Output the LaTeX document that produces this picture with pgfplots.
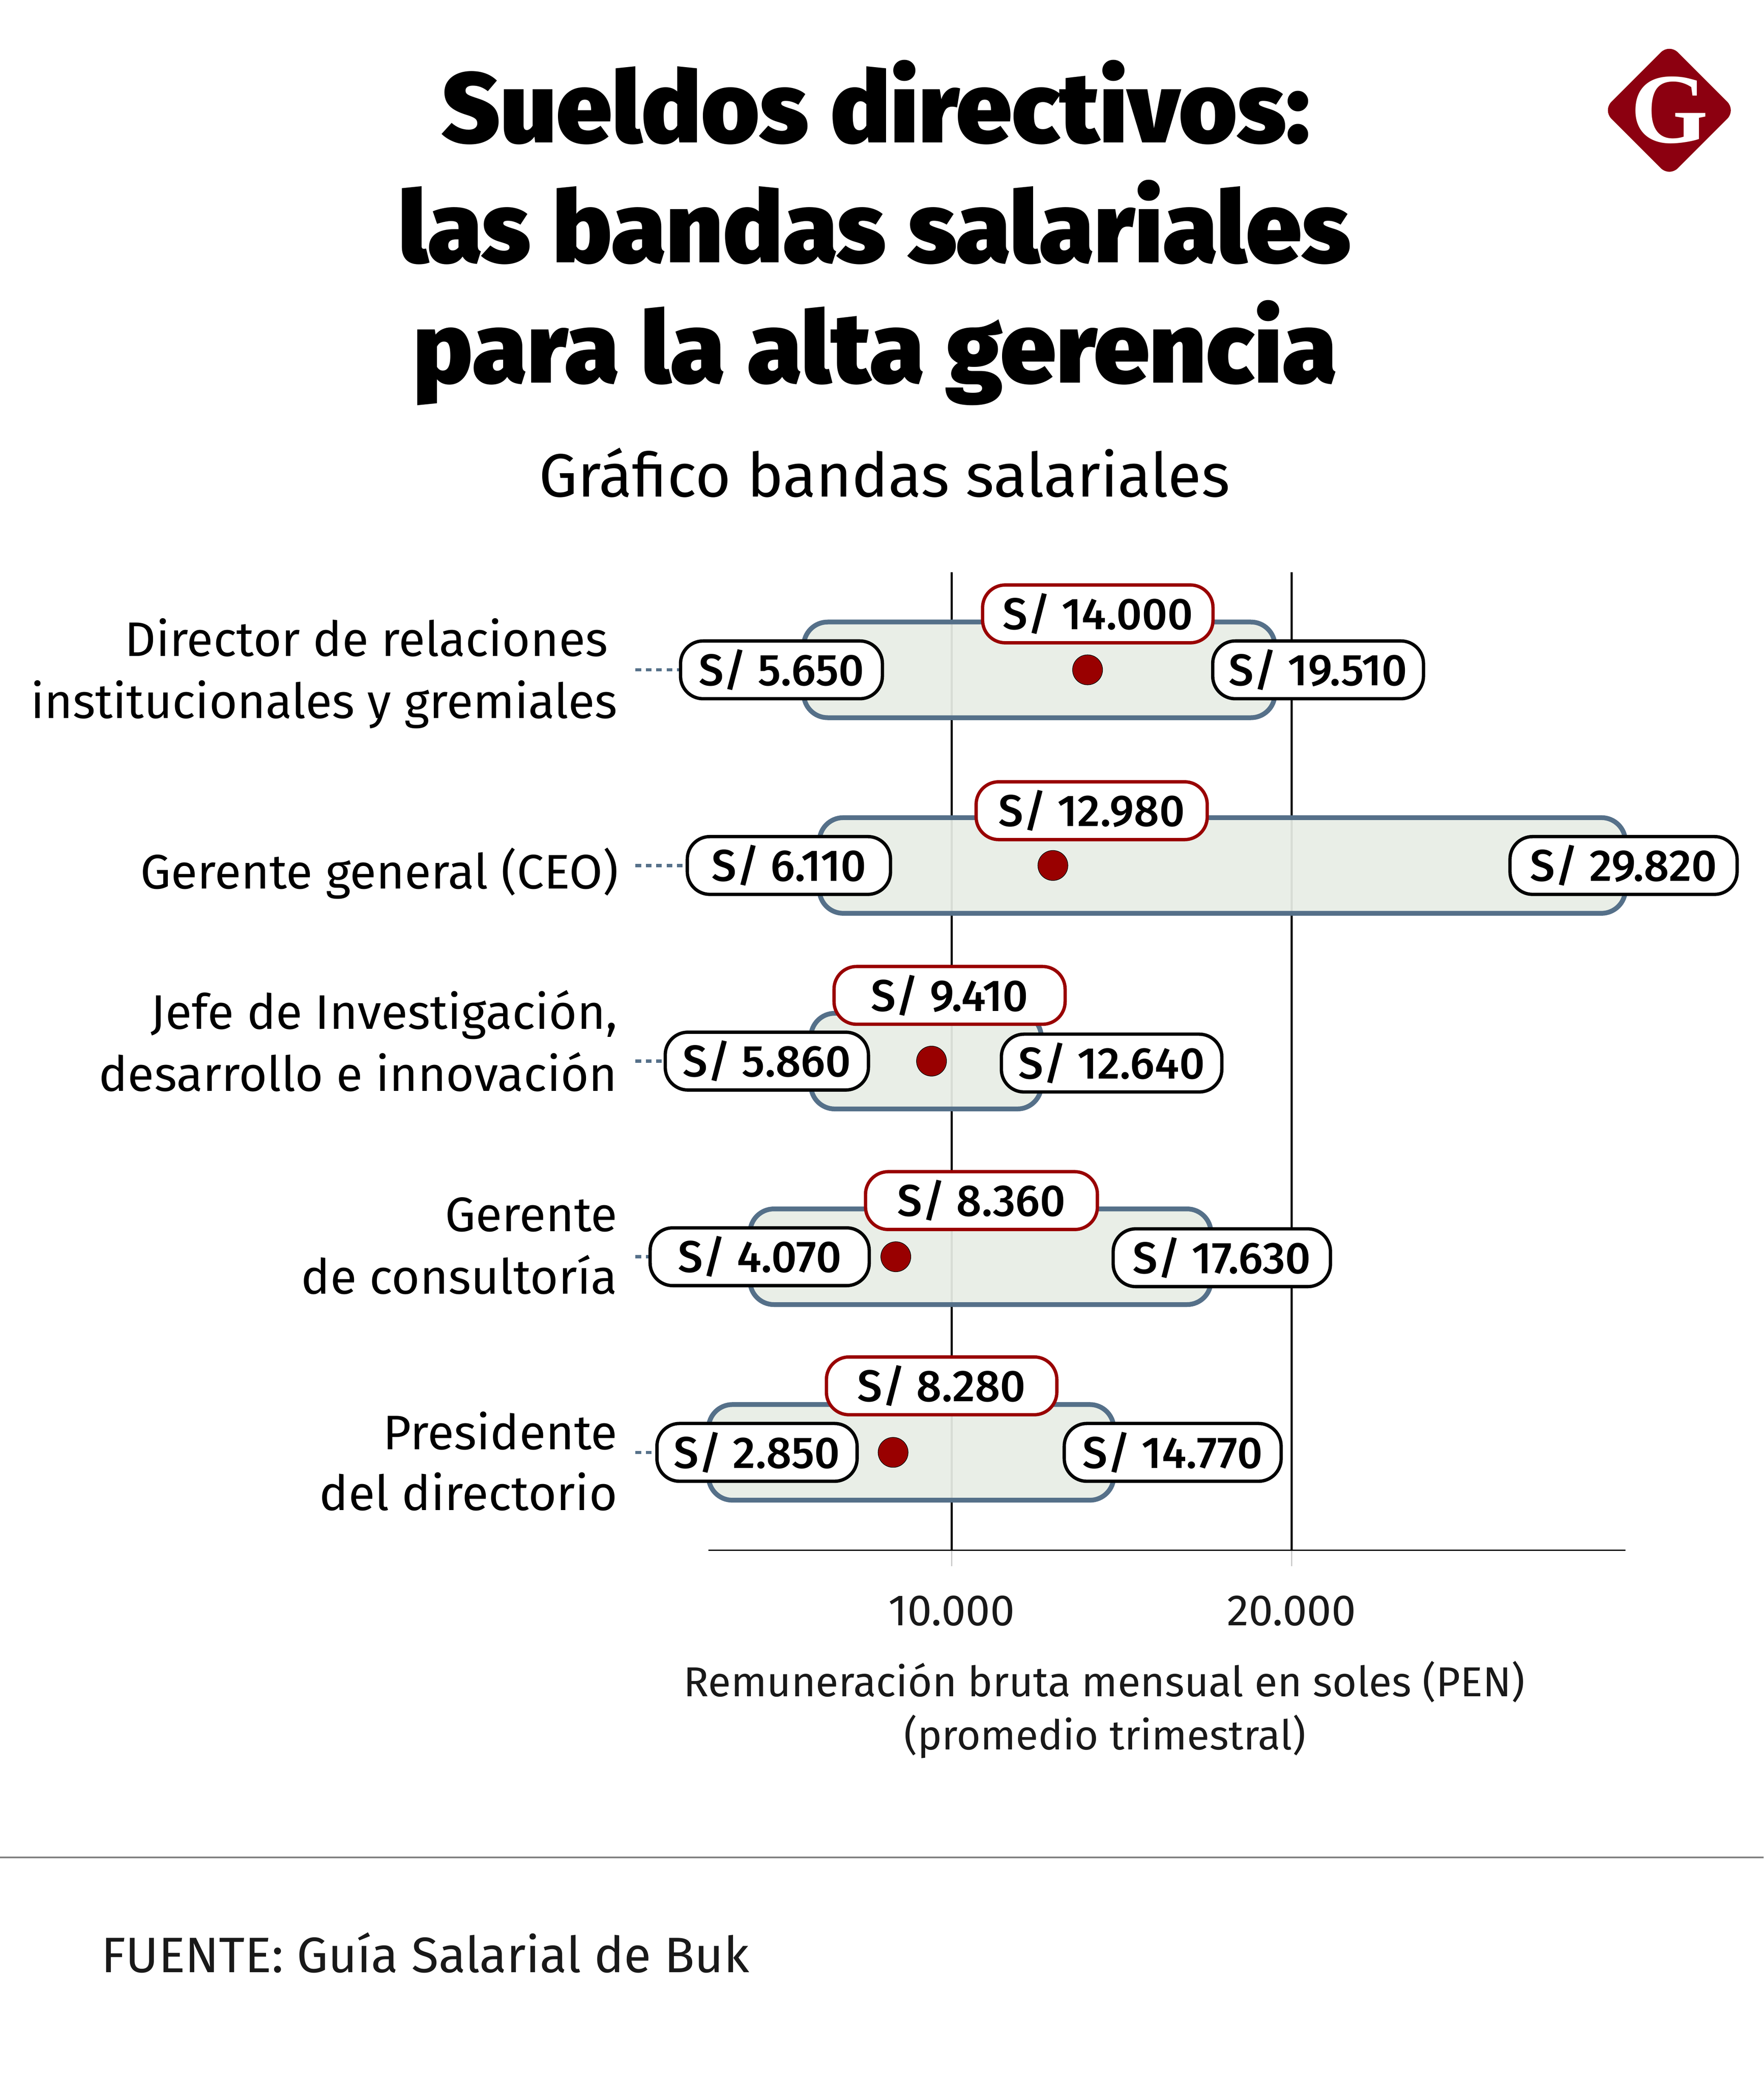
\documentclass[border=0pt]{standalone}
\usepackage{pgfplots}
\pgfplotsset{compat=1.18}
\usepackage{pgfplotstable}
\usepackage{fontspec}
\setmainfont{Fira Sans}
\IfFontExistsTF{Fira Sans Black}{\newfontfamily\titlefont{Fira Sans Black}}{%
  \IfFontExistsTF{Fira Sans ExtraBold}{\newfontfamily\titlefont{Fira Sans ExtraBold}}{%
    \newfontfamily\titlefont{Fira Sans}[FakeBold=2]}}
\IfFontExistsTF{Fira Sans Medium}{\newfontfamily\medfont{Fira Sans Medium}}{\newfontfamily\medfont{Fira Sans}}
\newfontfamily\logofont{Liberation Serif}

\definecolor{bandfill}{HTML}{E8EDE6}
\definecolor{bandedge}{HTML}{557089}
\definecolor{medred}{HTML}{990000}
\definecolor{logored}{HTML}{8C0010}

% salary bands: minimum, median, maximum (soles)
\pgfplotstableread[col sep=comma]{
row,min,med,max
5,5650,14000,19510
4,6110,12980,29820
3,5860,9410,12640
2,4070,8360,17630
1,2850,8280,14770
}\bands

\pgfplotstableread[col sep=comma]{
x,y,w,lab
4996,5.0,152,S/ 5.650
20781,5.0,158.7,S/ 19.510
5215,4.0,153,S/ 6.110
29766,4.0,171,S/ 29.820
4566,3.0,153,S/ 5.860
14707,2.99,166,S/ 12.640
4355,2.0,165,S/ 4.070
17949,1.995,163.6,S/ 17.630
4277,1.0,150.7,S/ 2.850
16504,1.0,163.3,S/ 14.770
}\endlabels

\pgfplotstableread[col sep=comma]{
x,y,w,lab
14301,5.286,173.5,S/ 14.000
14121,4.28,174,S/ 12.980
9941,3.336,174,S/ 9.410
10879,2.287,174.6,S/ 8.360
9707,1.34,173.5,S/ 8.280
}\medlabels

\pgfplotsset{
  base/.style={at={(533.5pt,-1166.8pt)}, anchor=south west, scale only axis,
    width=690.4pt, height=736.25pt, xmin=2850, xmax=29820, ymin=0.5, ymax=5.5, clip=false},
}
\tikzset{
  lbl/.style={rectangle, rounded corners=17pt, line width=2.5pt, fill=white,
    minimum height=43.5pt, inner sep=0pt, anchor=center, text=black,
    font=\medfont\fontsize{33.5}{33.5}\selectfont},
  cat/.style={anchor=base east, inner sep=0pt, text=black, font=\fontsize{36.5}{36.5}\selectfont},
  conn/.style={draw=bandedge, line width=2.4pt, dash pattern=on 4.2pt off 3.6pt},
}

\begin{document}
\begin{tikzpicture}
\fill[white] (0pt,0pt) rectangle (1328pt,-1568.6pt);
\path[use as bounding box] (0pt,0pt) rectangle (1328pt,-1568.6pt);

% title
\node[anchor=base, inner sep=0pt, font=\titlefont\fontsize{75}{75}\selectfont] at (659.5pt,-107.5pt) {Sueldos directivos:};
\node[anchor=base, inner sep=0pt, font=\titlefont\fontsize{75}{75}\selectfont] at (658.5pt,-197.7pt) {las bandas salariales};
\node[anchor=base, inner sep=0pt, font=\titlefont\fontsize{75}{75}\selectfont] at (659pt,-288pt) {para la alta gerencia};
\node[anchor=base, inner sep=0pt, font=\fontsize{46}{46}\selectfont] at (666pt,-374pt) {Gráfico bandas salariales};

% logo
\fill[logored, rounded corners=9pt] (1257pt,-33pt) -- (1307pt,-83pt) -- (1257pt,-133pt) -- (1207pt,-83pt) -- cycle;
\node[anchor=base, inner sep=0pt, text=white, font=\logofont\bfseries\fontsize{75}{75}\selectfont] at (1257pt,-107.5pt) {G};

% axis with grid and bands (stacked: invisible 0..min, visible min..max)
\begin{axis}[base, xbar stacked, bar width=72pt,
  axis x line*=bottom, axis y line=none,
  x axis line style={-, black, line width=1.2pt},
  xtick={10000,20000}, xticklabels={10.000,20.000}, scaled x ticks=false,
  xtick align=outside, major tick length=12pt,
  xtick style={draw=black!20, line width=1pt},
  xmajorgrids, major grid style={black, line width=1.6pt},
  xticklabel style={font=\fontsize{33}{33}\selectfont, text=black!90, inner sep=0pt, anchor=north, yshift=-22pt},
  ytick=\empty,
]
\addplot[draw=none, fill=none] table[x=min, y=row]{\bands};
\addplot[fill=bandfill, fill opacity=0.93, draw=bandedge, line width=3.6pt, rounded corners=18pt]
  table[x expr=\thisrow{max}-\thisrow{min}, y=row]{\bands};
\end{axis}

% overlay axis with connectors, medians and labels
\begin{axis}[base, hide axis]
\addplot[conn] coordinates {(703,5) (4996,5)};
\addplot[conn] coordinates {(703,4) (5215,4)};
\addplot[conn] coordinates {(703,3) (4566,3)};
\addplot[conn] coordinates {(703,2) (4355,2)};
\addplot[conn] coordinates {(703,1) (4277,1)};
\addplot[only marks, mark=*, mark size=11.3pt, mark options={draw=none, fill=medred}]
  table[x=med, y=row]{\bands};
\addplot[draw=none, nodes near coords, point meta=explicit symbolic,
  visualization depends on={\thisrow{w} \as \boxw},
  every node near coord/.append style={lbl, draw=black, minimum width=\boxw pt}]
  table[x=x, y=y, meta=lab]{\endlabels};
\addplot[draw=none, nodes near coords, point meta=explicit symbolic,
  visualization depends on={\thisrow{w} \as \boxw},
  every node near coord/.append style={lbl, draw=medred, minimum width=\boxw pt}]
  table[x=x, y=y, meta=lab]{\medlabels};
\end{axis}

% category labels
\node[cat] at (458pt,-494pt) {Director de relaciones};
\node[cat] at (465pt,-540.5pt) {institucionales y gremiales};
\node[cat] at (466pt,-669pt) {Gerente general (CEO)};
\node[cat] at (465pt,-774.4pt) {Jefe de Investigación,};
\node[cat] at (465pt,-821.3pt) {desarrollo e innovación};
\node[cat] at (465pt,-927pt) {Gerente};
\node[cat] at (465pt,-974pt) {de consultoría};
\node[cat] at (465pt,-1091pt) {Presidente};
\node[cat] at (465pt,-1136.7pt) {del directorio};

% x label
\node[anchor=base, inner sep=0pt, text=black!90, font=\fontsize{31.5}{31.5}\selectfont] at (831.5pt,-1277pt) {Remuneración bruta mensual en soles (PEN)};
\node[anchor=base, inner sep=0pt, text=black!90, font=\fontsize{31}{31}\selectfont] at (832pt,-1317pt) {(promedio trimestral)};

% separator and source
\draw[black!50, line width=1.3pt] (0pt,-1398pt) -- (1328pt,-1398pt);
\node[anchor=base west, inner sep=0pt, text=black!90, font=\fontsize{37.5}{37.5}\selectfont] at (76pt,-1484.5pt) {FUENTE: Guía Salarial de Buk};
\end{tikzpicture}
\end{document}
